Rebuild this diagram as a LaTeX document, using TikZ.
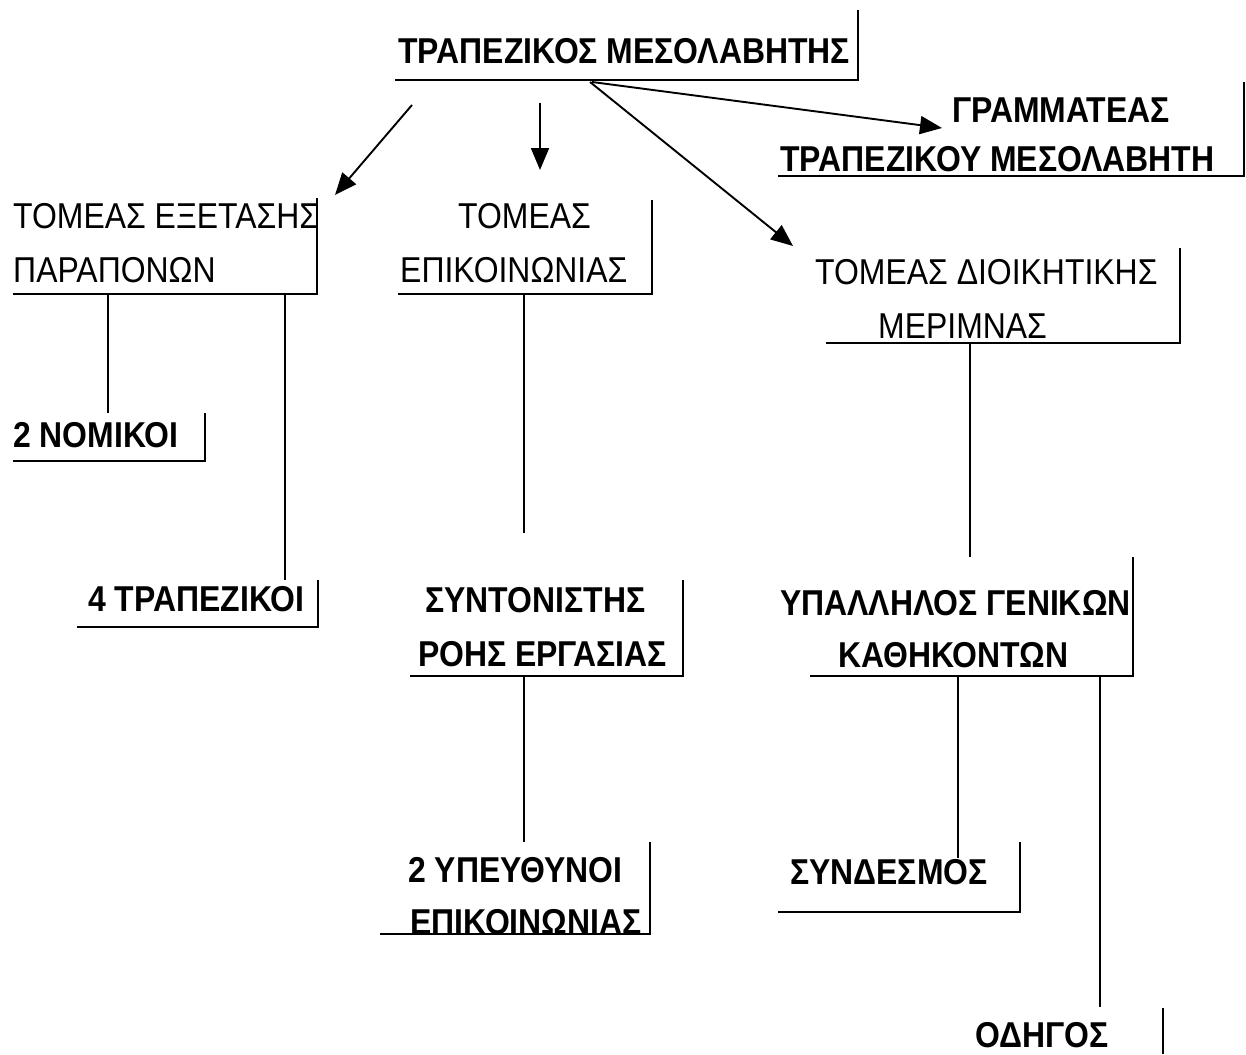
\documentclass[tikz,border=0pt]{standalone}
\usepackage{fontspec}
\usepackage{graphicx}
\setmainfont{Liberation Sans}
\usetikzlibrary{arrows.meta}
\newcommand\vstretch[1]{\scalebox{1.03}[1.16]{#1}}
\begin{document}
\begin{tikzpicture}[x=1pt,y=-1pt,
  lbl/.style={inner sep=0pt, anchor=base west, font=\fontsize{31}{31}\selectfont},
  blbl/.style={lbl, font=\fontsize{31}{31}\selectfont\bfseries},
  brk/.style={line width=1.9pt},
  conn/.style={line width=1.9pt},
  arr/.style={conn,-{Triangle[length=22pt,width=18pt]}}]
\useasboundingbox[fill=white] (0,0) rectangle (1246,1054);

% ---- texts
\node[blbl] (t1) at (398,64) {\vstretch{ΤΡΑΠΕΖΙΚΟΣ ΜΕΣΟΛΑΒΗΤΗΣ}};
\node[blbl] (t2a) at (952,122) {\vstretch{ΓΡΑΜΜΑΤΕΑΣ}};
\node[blbl] (t2b) at (780,171) {\vstretch{ΤΡΑΠΕΖΙΚΟΥ ΜΕΣΟΛΑΒΗΤΗ}};
\node[lbl] (t3a) at (13,228) {\vstretch{ΤΟΜΕΑΣ ΕΞΕΤΑΣΗΣ}};
\node[lbl] (t3b) at (13,282) {\vstretch{ΠΑΡΑΠΟΝΩΝ}};
\node[lbl] (t4a) at (458,228) {\vstretch{ΤΟΜΕΑΣ}};
\node[lbl] (t4b) at (400,282) {\vstretch{ΕΠΙΚΟΙΝΩΝΙΑΣ}};
\node[lbl] (t5a) at (815,284) {\vstretch{ΤΟΜΕΑΣ ΔΙΟΙΚΗΤΙΚΗΣ}};
\node[lbl] (t5b) at (878,338) {\vstretch{ΜΕΡΙΜΝΑΣ}};
\node[blbl] (t6) at (13,447) {\vstretch{2 ΝΟΜΙΚΟΙ}};
\node[blbl] (t7) at (88,611) {\vstretch{4 ΤΡΑΠΕΖΙΚΟΙ}};
\node[blbl] (t8a) at (425,612) {\vstretch{ΣΥΝΤΟΝΙΣΤΗΣ}};
\node[blbl] (t8b) at (418,666) {\vstretch{ΡΟΗΣ ΕΡΓΑΣΙΑΣ}};
\node[blbl] (t9a) at (780,615) {\vstretch{ΥΠΑΛΛΗΛΟΣ ΓΕΝΙΚΩΝ}};
\node[blbl] (t9b) at (838,667) {\vstretch{ΚΑΘΗΚΟΝΤΩΝ}};
\node[blbl] (t10a) at (408,882) {\vstretch{2 ΥΠΕΥΘΥΝΟΙ}};
\node[blbl] (t10b) at (410,934) {\vstretch{ΕΠΙΚΟΙΝΩΝΙΑΣ}};
\node[blbl] (t11) at (790,884) {\vstretch{ΣΥΝΔΕΣΜΟΣ}};
\node[blbl] (t12) at (975,1047) {\vstretch{ΟΔΗΓΟΣ}};

% ---- brackets (bottom-left, corner, top of right side)
\draw[brk] (395,80) -- (858,80) -- (858,10);
\draw[brk] (778,176) -- (1244,176) -- (1244,82);
\draw[brk] (13,294) -- (317,294) -- (317,198);
\draw[brk] (398,294) -- (652,294) -- (652,200);
\draw[brk] (826,343) -- (1180,343) -- (1180,248);
\draw[brk] (13,461) -- (205,461) -- (205,413);
\draw[brk] (77,627) -- (318,627) -- (318,580);
\draw[brk] (410,676) -- (683,676) -- (683,580);
\draw[brk] (810,676) -- (1133,676) -- (1133,557);
\draw[brk] (380,934) -- (650,934) -- (650,842);
\draw[brk] (778,912) -- (1020,912) -- (1020,842);
\draw[brk] (1163,1008) -- (1163,1054);

% ---- connector end points
\coordinate (a1s) at (412,105); \coordinate (a1e) at (335,195);
\coordinate (a2s) at (540,103); \coordinate (a2e) at (540,170);
\coordinate (a3s) at (590,82);  \coordinate (a3e) at (793,246);
\coordinate (a4s) at (592,82);  \coordinate (a4e) at (942,128);
\coordinate (c1s) at (108,294); \coordinate (c1e) at (108,413);
\coordinate (c2s) at (285,294); \coordinate (c2e) at (285,580);
\coordinate (c3s) at (524,294); \coordinate (c3e) at (524,533);
\coordinate (c4s) at (524,676); \coordinate (c4e) at (524,842);
\coordinate (c5s) at (970,343); \coordinate (c5e) at (970,557);
\coordinate (c6s) at (958,676); \coordinate (c6e) at (958,858);
\coordinate (c7s) at (1100,676); \coordinate (c7e) at (1100,1007);

\draw[arr] (a1s) -- (a1e);
\draw[arr] (a2s) -- (a2e);
\draw[arr] (a3s) -- (a3e);
\draw[arr] (a4s) -- (a4e);
\foreach \c in {c1,c2,c3,c4,c5,c6,c7} \draw[conn] (\c s) -- (\c e);
\end{tikzpicture}
\end{document}
